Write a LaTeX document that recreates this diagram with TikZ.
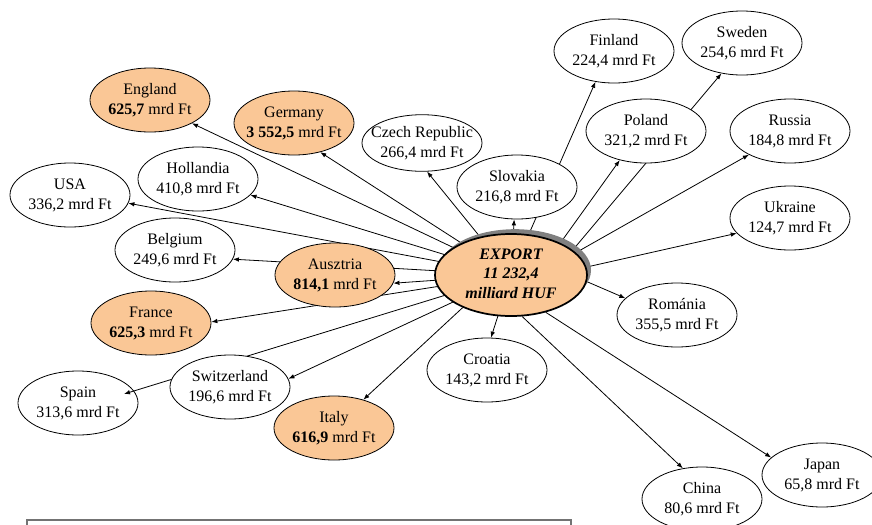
\documentclass[tikz,border=0pt]{standalone}
\usepackage{fontspec}
\setmainfont{Liberation Serif}
\usetikzlibrary{shapes.geometric,arrows.meta,shadows,backgrounds}
\definecolor{peach}{RGB}{250,199,150}
\newcommand{\tl}[2]{\makebox[0pt]{\begin{tabular}{@{}c@{}}#1\\#2\end{tabular}}}
\begin{document}
\begin{tikzpicture}[x=0.75pt,y=-0.75pt,
  cty/.style={ellipse,draw=black,line width=0.6pt,fill=white,minimum width=90pt,minimum height=48pt,inner sep=0pt,font=\fontsize{12}{15}\selectfont},
  hi/.style={cty,fill=peach},
  link/.style={line width=0.6pt,-{Latex[length=4.5pt,width=3.4pt]}}]
\useasboundingbox (0,0) rectangle (872,525);
% centre
\node[ellipse,draw=black,line width=1.3pt,fill=peach,minimum width=114pt,minimum height=60pt,inner sep=0pt,
  font=\fontsize{12}{14.5}\selectfont\bfseries\itshape,
  drop shadow={shadow xshift=3pt,shadow yshift=3.6pt,fill=black!50,opacity=1}] (c) at (511,275)
  {\makebox[0pt]{\begin{tabular}{@{}c@{}}EXPORT\\11 232,4\\milliard HUF\end{tabular}}};
% countries
\node[hi] (eng) at (150,100) {\tl{England}{\textbf{625,7} mrd Ft}};
\node[hi] (ger) at (294,123) {\tl{Germany}{\textbf{3 552,5} mrd Ft}};
\node[cty,minimum height=42pt] (cze) at (422,143) {\tl{Czech Republic}{266,4 mrd Ft}};
\node[cty] (hol) at (198,179) {\tl{Hollandia}{410,8 mrd Ft}};
\node[cty] (usa) at (70,195) {\tl{USA}{336,2 mrd Ft}};
\node[cty] (bel) at (175,250) {\tl{Belgium}{249,6 mrd Ft}};
\node[hi] (aus) at (335,275) {\tl{Ausztria}{\textbf{814,1} mrd Ft}};
\node[hi] (fra) at (151,323) {\tl{France}{\textbf{625,3} mrd Ft}};
\node[cty] (swi) at (230,387) {\tl{Switzerland}{196,6 mrd Ft}};
\node[hi] (ita) at (334,428) {\tl{Italy}{\textbf{616,9} mrd Ft}};
\node[cty] (cro) at (487,370) {\tl{Croatia}{143,2 mrd Ft}};
\node[cty] (chi) at (702,499) {\tl{China}{80,6 mrd Ft}};
\node[cty] (jap) at (822,475) {\tl{Japan}{65,8 mrd Ft}};
\node[cty] (rom) at (677,315) {\tl{Románia}{355,5 mrd Ft}};
\node[cty] (ukr) at (790,218) {\tl{Ukraine}{124,7 mrd Ft}};
\node[cty] (rus) at (790,131) {\tl{Russia}{184,8 mrd Ft}};
\node[cty] (pol) at (646,131) {\tl{Poland}{321,2 mrd Ft}};
\node[cty] (swe) at (742,43) {\tl{Sweden}{254,6 mrd Ft}};
\node[cty] (fin) at (614,51) {\tl{Finland}{224,4 mrd Ft}};
\node[cty] (slo) at (517,187) {\tl{Slovakia}{216,8 mrd Ft}};
% bottom box
\coordinate (bl) at (27,527);
\coordinate (br) at (571,527);
\draw[draw=black!55,line width=1.1pt] (bl) -- (27,520) -- (571,520) -- (br);
\begin{pgfonlayer}{background}
\node[cty] (spa) at (78,403) {\tl{Spain}{313,6 mrd Ft}};
\coordinate (spatip) at (124,394);
\draw[link] (c.center) -- (eng.331);
\draw[link] (c.center) -- (ger.312);
\draw[link] (c.center) -- (cze.280);
\draw[link] (c.center) -- (hol.343.5);
\draw[link] (c.center) -- (usa.352.6);
\draw[link] (c.center) -- (bel.351.5);
\draw[link] (c.center) -- (aus.352.4);
\draw[link] (c.center) -- (fra.1);
\draw[link] (c.center) -- (swi.8.4);
\draw[link] (c.center) -- (spatip);
\draw[link] (c.214) -- (ita.44);
\draw[link] (c.center) -- (cro.83);
\draw[link] (c.285) -- (chi.122.5);
\draw[link] (c.313) -- (jap.161.6);
\draw[link] (c.355) -- (rom.162);
\draw[link] (c.6) -- (ukr.196);
\draw[link] (c.19) -- (rus.210);
\draw[link] (c.33) -- (pol.228);
\draw[link] (c.22) -- (swe.236);
\draw[link] (c.center) -- (fin.239);
\draw[link] (c.center) -- (slo.265);
\end{pgfonlayer}
\end{tikzpicture}
\end{document}
